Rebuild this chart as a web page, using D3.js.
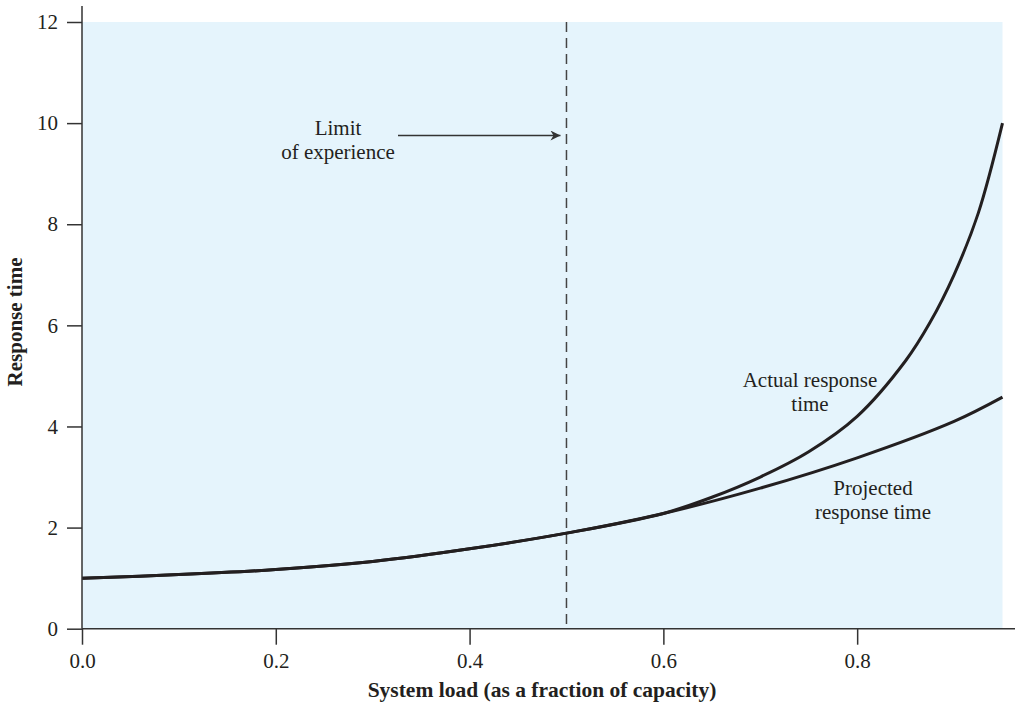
<!DOCTYPE html>
<html>
<head>
<meta charset="utf-8">
<script src="https://cdn.jsdelivr.net/npm/d3@7"></script>
<style>
  html, body { margin: 0; padding: 0; background: #fff; }
  svg { display: block; }
  text { font-family: "Liberation Serif", "Times New Roman", serif; fill: #231f20; }
</style>
</head>
<body>
<svg id="chart" width="1015" height="705"></svg>
<script>
// ---- data ----
const xTicks = [0.0, 0.2, 0.4, 0.6, 0.8];
const yTicks = [0, 2, 4, 6, 8, 10, 12];
const projectedLoad = [0.0, 0.1, 0.2, 0.3, 0.4, 0.5, 0.6, 0.7, 0.8, 0.9, 0.95];
const projectedTime = [1.0, 1.07, 1.17, 1.33, 1.58, 1.89, 2.28, 2.78, 3.38, 4.1, 4.58];
const actualLoad = [0.0, 0.1, 0.2, 0.3, 0.4, 0.5, 0.6, 0.65, 0.7, 0.75, 0.8, 0.85, 0.875, 0.9, 0.925, 0.95];
const actualTime = [1.0, 1.07, 1.17, 1.33, 1.58, 1.89, 2.28, 2.6, 3.0, 3.5, 4.2, 5.3, 6.05, 7.0, 8.22, 10.0];
const limitLoad = 0.5;
const xDomain = [0, 0.95];
const yDomain = [0, 12];
const xLabel = "System load (as a fraction of capacity)";
const yLabel = "Response time";
const limitLabel = ["Limit", "of experience"];
const actualLabel = ["Actual response", "time"];
const projectedLabel = ["Projected", "response time"];

(function () {
// ---- layout ----
const svg = d3.select("#chart");
const mLeft = 82, mRight = 1002.5, mTop = 22, mBottom = 628.7;
const x = d3.scaleLinear().domain(xDomain).range([mLeft, mRight]);
const y = d3.scaleLinear().domain(yDomain).range([mBottom, mTop]);
const axisColor = "#333";
const ink = "#231f20";

// background
svg.append("rect")
  .attr("x", mLeft).attr("y", mTop)
  .attr("width", mRight - mLeft).attr("height", mBottom - mTop)
  .attr("fill", "#e5f4fc");

// dashed limit line
svg.append("line")
  .attr("x1", x(limitLoad)).attr("x2", x(limitLoad))
  .attr("y1", y(12)).attr("y2", y(0))
  .attr("stroke", "#444").attr("stroke-width", 1.5)
  .attr("stroke-dasharray", "10,6");

// curves
const line = d3.line().curve(d3.curveCatmullRom.alpha(0.5)).x(d => x(d[0])).y(d => y(d[1]));
const projected = projectedLoad.map((v, i) => [v, projectedTime[i]]);
const actual = actualLoad.map((v, i) => [v, actualTime[i]]);
svg.append("path").datum(projected).attr("d", line)
  .attr("fill", "none").attr("stroke", ink).attr("stroke-width", 3);
svg.append("path").datum(actual).attr("d", line)
  .attr("fill", "none").attr("stroke", ink).attr("stroke-width", 3);

// axes
const fontSize = 21;
const xAxis = svg.append("g").attr("transform", `translate(0,${mBottom})`)
  .call(d3.axisBottom(x).tickValues(xTicks).tickFormat(d3.format(".1f")).tickSize(16).tickPadding(8));
const yAxis = svg.append("g").attr("transform", `translate(${mLeft},0)`)
  .call(d3.axisLeft(y).tickValues(yTicks).tickFormat(d3.format("d")).tickSize(15).tickPadding(9));
[xAxis, yAxis].forEach(g => {
  g.select(".domain").remove();
  g.selectAll(".tick line").attr("stroke", axisColor).attr("stroke-width", 1.5);
  g.selectAll(".tick text")
    .attr("font-family", "'Liberation Serif', serif")
    .attr("font-size", fontSize).attr("fill", ink);
});
// extended axis lines
svg.append("line").attr("x1", mLeft).attr("x2", 1015).attr("y1", mBottom).attr("y2", mBottom)
  .attr("stroke", axisColor).attr("stroke-width", 1.5);
svg.append("line").attr("x1", mLeft).attr("x2", mLeft).attr("y1", 6).attr("y2", mBottom)
  .attr("stroke", axisColor).attr("stroke-width", 1.5);

// axis titles
svg.append("text")
  .attr("x", 542).attr("y", 697)
  .attr("text-anchor", "middle").attr("font-weight", "bold").attr("font-size", 21.5)
  .text(xLabel);
svg.append("text")
  .attr("transform", `translate(22,${322}) rotate(-90)`)
  .attr("text-anchor", "middle").attr("font-weight", "bold").attr("font-size", 21)
  .text(yLabel);

// annotations
function multi(lines, cx, y0, dy) {
  const t = svg.append("text").attr("text-anchor", "middle").attr("font-size", fontSize);
  lines.forEach((s, i) => t.append("tspan").attr("x", cx).attr("y", y0 + i * dy).text(s));
}
multi(limitLabel, 338, 135, 24);
multi(actualLabel, 810, 387, 24);
multi(projectedLabel, 873, 495, 24);

// arrow
svg.append("defs").append("marker")
  .attr("id", "arrowhead").attr("viewBox", "0 0 10 10")
  .attr("refX", 10).attr("refY", 5)
  .attr("markerWidth", 14).attr("markerHeight", 10)
  .attr("markerUnits", "userSpaceOnUse")
  .attr("orient", "auto")
  .append("path").attr("d", "M0,0 L10,5 L0,10 L3,5 Z").attr("fill", "#333");
svg.append("line")
  .attr("x1", 398).attr("x2", x(limitLoad) - 6)
  .attr("y1", 135.5).attr("y2", 135.5)
  .attr("stroke", "#333").attr("stroke-width", 1.5)
  .attr("marker-end", "url(#arrowhead)");
})();
</script>
</body>
</html>
